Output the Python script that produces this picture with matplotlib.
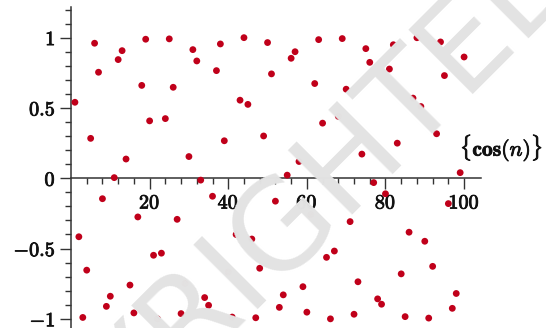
import matplotlib
matplotlib.use("Agg")
import matplotlib.pyplot as plt
import matplotlib.patheffects as pe
from matplotlib.ticker import FixedLocator

plt.rcParams['mathtext.fontset'] = 'cm'

n_values = list(range(1, 101))
cos_values = [
    0.5403, -0.4161, -0.9900, -0.6536, 0.2837, 0.9602, 0.7539, -0.1455, -0.9111, -0.8391,
    0.0044, 0.8439, 0.9074, 0.1367, -0.7597, -0.9577, -0.2752, 0.6603, 0.9887, 0.4081,
    -0.5477, -1.0000, -0.5328, 0.4242, 0.9912, 0.6469, -0.2921, -0.9626, -0.7481, 0.1543,
    0.9147, 0.8342, -0.0133, -0.8486, -0.9037, -0.1280, 0.7654, 0.9551, 0.2666, -0.6669,
    -0.9873, -0.3999, 0.5551, 0.9998, 0.5253, -0.4322, -0.9922, -0.6401, 0.3006, 0.9650,
    0.7422, -0.1630, -0.9182, -0.8293, 0.0221, 0.8532, 0.8998, 0.1192, -0.7712, -0.9524,
    -0.2581, 0.6735, 0.9858, 0.3919, -0.5625, -0.9999, -0.5176, 0.4401, 0.9933, 0.6333,
    -0.3085, -0.9672, -0.7362, 0.1717, 0.9218, 0.8243, -0.0310, -0.8578, -0.8959, -0.1104,
    0.7767, 0.9495, 0.2495, -0.6800, -0.9842, -0.3837, 0.5698, 0.9994, 0.5100, -0.4481,
    -0.9945, -0.6266, 0.3164, 0.9693, 0.7302, -0.1804, -0.9251, -0.8195, 0.0398, 0.8623,
]
x_ticks = [20, 40, 60, 80, 100]
x_tick_labels = ['20', '40', '60', '80', '100']
y_ticks = [-1, -0.5, 0, 0.5, 1]
y_tick_labels = ['-1', '-0.5', '0', '0.5', '1']
axis_label = r'$\{\mathbf{cos}(n)\}$'

W, H = 546, 328
fig = plt.figure(figsize=(W / 100, H / 100), dpi=100)
ax = fig.add_axes([71 / W, 0, 410 / W, 321.3 / H])
ax.set_xlim(0, 104.3)
ax.set_ylim(-1.065, 1.22)

# watermark
fig.text(268 / W, 1 - 292 / H, 'COPYRIGHTED', fontsize=90, color='#e3e3e3',
         rotation=45, ha='center', va='baseline', rotation_mode='anchor',
         family='DejaVu Sans', zorder=0)
ax.patch.set_alpha(0)

ax.scatter(n_values, cos_values, s=24, color='#c0001a', edgecolors='none', zorder=3, clip_on=False)

for s in ['top', 'right']:
    ax.spines[s].set_visible(False)
ax.spines['bottom'].set_position(('data', 0))
ax.spines['left'].set_position(('data', 0))
for s in ['bottom', 'left']:
    ax.spines[s].set_color('#333333')
    ax.spines[s].set_linewidth(1.1)

bold = [pe.withStroke(linewidth=0.6, foreground='#111111')]

ax.xaxis.set_major_locator(FixedLocator(x_ticks))
ax.xaxis.set_minor_locator(FixedLocator([v for v in range(4, 104, 4) if v % 20 != 0]))
ax.set_xticklabels([r'$\mathbf{%s}$' % t for t in x_tick_labels])
ax.yaxis.set_major_locator(FixedLocator(y_ticks))
ax.yaxis.set_minor_locator(FixedLocator([round(v * 0.1, 1) for v in range(-10, 13) if v % 5 != 0]))
ax.set_yticklabels([r'$\mathbf{%s}$' % t for t in y_tick_labels])

ax.tick_params(which='major', length=8, width=1.0, color='#333333', labelsize=14.5, pad=3,
               labelcolor='#111111')
ax.tick_params(which='minor', length=4.3, width=1.0, color='#333333')
ax.tick_params(axis='both', which='both', direction='out')
for lab in ax.get_xticklabels() + ax.get_yticklabels():
    lab.set_path_effects(bold)

fig.text(543 / W, 1 - 148 / H, axis_label, fontsize=15.5, ha='right', va='center',
         color='#111111', path_effects=bold)

fig.savefig('out.png', dpi=100)
